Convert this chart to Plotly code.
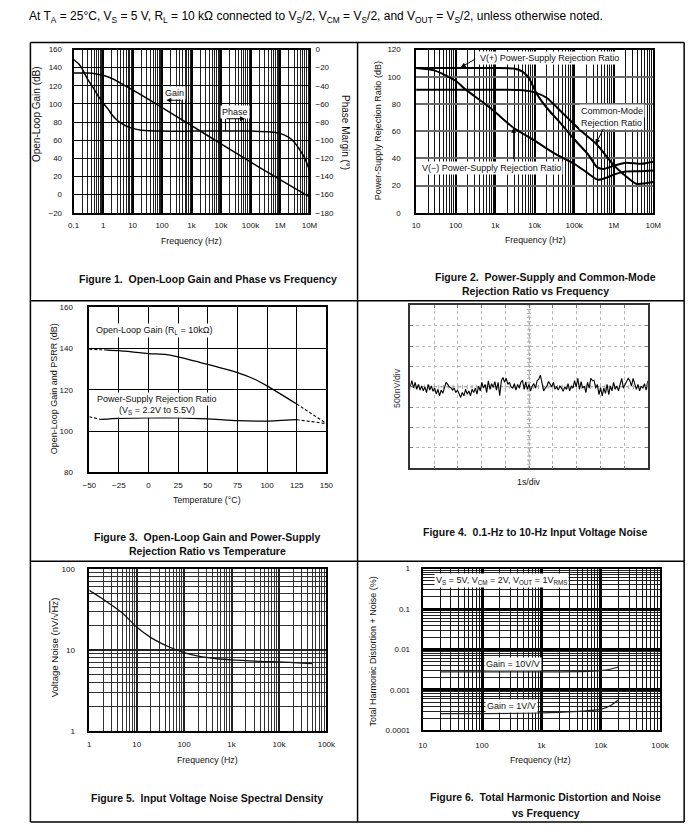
import plotly.graph_objects as go
import numpy as np

FONT = "Liberation Sans, Arial, Helvetica, sans-serif"
W, H = 700, 837

# ---------------- Figure 1: open-loop gain / phase ----------------
f1_gain = [0.1, 0.3, 0.6, 1, 2, 3, 5, 10, 100, 1e3, 1e4, 1e5, 1e6, 1e7]
gain_db = [134, 134, 133, 131.5, 128, 125, 121, 115.5, 96, 76, 56, 36, 16.5, -2.5]
f1_phase = [0.1, 0.15, 0.2, 0.3, 0.5, 0.7, 1, 1.5, 2, 3, 5, 10, 20, 100, 1e3, 1e4,
            1e5, 5e5, 1e6, 2e6, 3e6, 5e6, 7e6, 1e7]
phase_deg = [-11, -16, -22, -33, -44, -52, -59, -66, -72, -78, -83, -87, -89, -90, -90, -90,
             -90, -91, -92.5, -97, -102, -112, -120, -133]
f1_ticks = [0.1, 1, 10, 100, 1e3, 1e4, 1e5, 1e6, 1e7]
f1_labels = ["0.1", "1", "10", "100", "1k", "10k", "100k", "1M", "10M"]
gain_ticks = [-20, 0, 20, 40, 60, 80, 100, 120, 140, 160]
gain_labels = ["\u221220", "0", "20", "40", "60", "80", "100", "120", "140", "160"]
phase_ticks = [-180, -160, -140, -120, -100, -80, -60, -40, -20, 0]
phase_labels = ["\u2212180", "\u2212160", "\u2212140", "\u2212120", "\u2212100", "\u221280",
                "\u221260", "\u221240", "\u221220", "0"]

# ---------------- Figure 2: PSRR / CMRR ----------------
f2_vplus = [10, 1e3, 3e3, 4.9e3, 7.2e3, 1.05e4, 1.5e4, 2.2e4, 4.8e4, 1e5, 2.2e5, 3.8e5,
            5.6e5, 1e6, 2e6, 5e6, 1e7]
psrr_plus = [106.4, 106.4, 106, 103.8, 98.9, 89.2, 82, 75.9, 65, 54, 43.2, 33.5,
             32.2, 34.5, 36.8, 36, 37.5]
f2_vminus = [10, 30, 100, 180, 500, 1e3, 2.9e3, 1e4, 3e4, 1e5, 2e5, 4e5, 7e5, 1e6, 2e6, 5e6, 1e7]
psrr_minus = [106.4, 104.5, 97, 90.5, 81, 74, 62.5, 53, 44, 36, 30, 24.2, 26, 28, 30.3, 30.5, 31]
f2_cmrr = [10, 1e3, 5e3, 1e4, 2e4, 5e4, 1e5, 1.5e5, 3.7e5, 1e6, 2e6, 3.7e6, 6e6, 1e7]
cmrr = [90.5, 90.5, 90, 88.5, 84.5, 73.5, 65, 60, 50.4, 35, 27, 21.3, 21.5, 22.6]
f2_ticks = [10, 100, 1e3, 1e4, 1e5, 1e6, 1e7]
f2_labels = ["10", "100", "1k", "10k", "100k", "1M", "10M"]
psrr_ticks = [0, 20, 40, 60, 80, 100, 120]

# ---------------- Figure 3: vs temperature ----------------
temp_gain = [-50, -35, -25, 0, 15, 25, 50, 75, 90, 100, 125, 150]
olg_temp = [139.7, 139.3, 139, 137.6, 137.1, 136, 132.3, 128.3, 125, 121.9, 113.1, 103.7]
temp_psrr = [-50, -40, -25, 0, 25, 50, 75, 100, 125, 150]
psrr_temp = [106.9, 105.6, 106.1, 106.4, 106.4, 105.9, 105, 104.8, 105.5, 103.6]
temp_ticks = [-50, -25, 0, 25, 50, 75, 100, 125, 150]
temp_labels = ["\u221250", "\u221225", "0", "25", "50", "75", "100", "125", "150"]
db3_ticks = [80, 100, 120, 140, 160]

# ---------------- Figure 4: 0.1-10 Hz noise (nV) ----------------
noise_nv = [20, 150, -30, 110, -60, 60, -80, 20, -100, 0, -140, 60, -80, 20, -110, -30, -180, -60,
            -220, -80, -160, -30, 110, 60, 0, -20, -80, -30, -140, -80, -190, -260, -140, -220,
            -60, -180, -100, -220, -60, -140, -30, -180, 20, -100, 110, -30, 60, -140, 150, -60,
            80, -20, 130, -80, 110, -220, 150, 230, 110, 210, 60, 110, 0, -30, 80, -80, 60, -30,
            110, 160, -60, 120, -60, 60, -100, 20, 80, -30, 150, 190, 290, 60, -100, -30, 20, 130,
            60, 0, 110, -60, 0, -80, 20, -30, -110, 0, -60, 80, -100, 20, -30, 150, 0, 210, -60,
            130, -30, 20, -140, 110, -30, 210, 150, 160, -30, 60, -190, -20, -220, -30, -160, 60,
            -190, 20, -100, 110, -60, 20, -100, 80, 210, -30, 60, 110, 210, 150, 20, 210, 80, -60,
            60, -100, 20, -30, 80, -80, 150]

# ---------------- Figure 5: noise density ----------------
f5 = [1, 2, 3, 5, 10, 20, 50, 100, 200, 500, 1e3, 2e3, 5e3, 1e4, 2e4, 5e4]
vnoise = [54.4, 42, 35.5, 28.5, 19.2, 14.2, 10.8, 9.3, 8.4, 7.8, 7.55, 7.4, 7.2, 7.15, 7.0, 6.8]
f5_ticks = [1, 10, 100, 1e3, 1e4, 1e5]
f5_labels = ["1", "10", "100", "1k", "10k", "100k"]
vn_ticks = [1, 10, 100]

# ---------------- Figure 6: THD+N ----------------
f6 = [20, 100, 1e3, 2e3, 5e3, 1e4, 1.5e4, 2e4]
thd_g10 = [0.0028, 0.0028, 0.0028, 0.0028, 0.00282, 0.003, 0.0033, 0.0037]
thd_g1 = [0.00026, 0.00026, 0.00027, 0.00028, 0.0003, 0.00033, 0.00042, 0.00057]
f6_ticks = [10, 100, 1e3, 1e4, 1e5]
f6_labels = ["10", "100", "1k", "10k", "100k"]
thd_ticks = [1e-4, 1e-3, 1e-2, 0.1, 1]
thd_labels = ["0.0001", "0.001", "0.01", "0.1", "1"]


def px(x):
    return x / W


def py(y):
    return 1 - y / H


def minor_vals(lo, hi):
    return [m * 10.0 ** e for e in range(lo, hi) for m in range(2, 10)]


TICKFONT = dict(family=FONT, size=8, color="#111")


def axis(domain, **kw):
    d = dict(domain=domain, showline=True, mirror=True, linecolor="black", linewidth=1.5,
             ticks="", zeroline=False, showgrid=True, fixedrange=True, tickfont=TICKFONT)
    d.update(kw)
    return d


fig = go.Figure()
LINE = dict(color="black", width=1.5, shape="spline", smoothing=0.6)

# Fig 1 traces
fig.add_trace(go.Scatter(x=f1_gain, y=gain_db, xaxis="x", yaxis="y", mode="lines", line=LINE))
fig.add_trace(go.Scatter(x=f1_phase, y=phase_deg, xaxis="x", yaxis="y7", mode="lines", line=LINE))
# Fig 2 traces
L2 = dict(color="black", width=2, shape="spline", smoothing=0.6)
fig.add_trace(go.Scatter(x=f2_vplus, y=psrr_plus, xaxis="x2", yaxis="y2", mode="lines", line=L2))
fig.add_trace(go.Scatter(x=f2_vminus, y=psrr_minus, xaxis="x2", yaxis="y2", mode="lines", line=L2))
fig.add_trace(go.Scatter(x=f2_cmrr, y=cmrr, xaxis="x2", yaxis="y2", mode="lines", line=L2))
# Fig 3 traces (dashed extrapolated ends)
L3 = dict(color="black", width=1.3, shape="spline", smoothing=0.6)
L3d = dict(color="black", width=1.1, dash="3px,2px")
fig.add_trace(go.Scatter(x=temp_gain[1:11], y=olg_temp[1:11], xaxis="x3", yaxis="y3", mode="lines", line=L3))
fig.add_trace(go.Scatter(x=temp_gain[:2], y=olg_temp[:2], xaxis="x3", yaxis="y3", mode="lines", line=L3d))
fig.add_trace(go.Scatter(x=temp_gain[10:], y=olg_temp[10:], xaxis="x3", yaxis="y3", mode="lines", line=L3d))
fig.add_trace(go.Scatter(x=temp_psrr[1:9], y=psrr_temp[1:9], xaxis="x3", yaxis="y3", mode="lines", line=L3))
fig.add_trace(go.Scatter(x=temp_psrr[:2], y=psrr_temp[:2], xaxis="x3", yaxis="y3", mode="lines", line=L3d))
fig.add_trace(go.Scatter(x=temp_psrr[8:], y=psrr_temp[8:], xaxis="x3", yaxis="y3", mode="lines", line=L3d))
# Fig 4 graticule: dotted centre lines with small ticks, then the trace
gx = np.arange(0, 10.001, 0.2)
gy = np.arange(-2000, 2000.1, 100)
fig.add_trace(go.Scatter(x=[5, 5], y=[-2000, 2000], xaxis="x4", yaxis="y4", mode="lines",
                         line=dict(color="#999", width=1, dash="dot")))
fig.add_trace(go.Scatter(x=[0, 10], y=[0, 0], xaxis="x4", yaxis="y4", mode="lines",
                         line=dict(color="#999", width=1, dash="dot")))
fig.add_trace(go.Scatter(x=gx, y=[0] * len(gx), xaxis="x4", yaxis="y4", mode="markers",
                         marker=dict(symbol="line-ns", size=3, line=dict(color="#aaa", width=1))))
fig.add_trace(go.Scatter(x=[5] * len(gy), y=gy, xaxis="x4", yaxis="y4", mode="markers",
                         marker=dict(symbol="line-ew", size=3, line=dict(color="#aaa", width=1))))
t4 = np.linspace(0, 10, len(noise_nv))
fig.add_trace(go.Scatter(x=t4, y=noise_nv, xaxis="x4", yaxis="y4", mode="lines",
                         line=dict(color="black", width=1.1)))
# Fig 5
fig.add_trace(go.Scatter(x=f5, y=vnoise, xaxis="x5", yaxis="y5", mode="lines",
                         line=dict(color="#111", width=1.3, shape="spline", smoothing=0.6)))
# Fig 6
L6 = dict(color="#222", width=1.2, shape="spline", smoothing=0.5)
fig.add_trace(go.Scatter(x=f6, y=thd_g10, xaxis="x6", yaxis="y6", mode="lines", line=L6))
fig.add_trace(go.Scatter(x=f6, y=thd_g1, xaxis="x6", yaxis="y6", mode="lines", line=L6))

layout = dict(
    width=W, height=H, margin=dict(l=0, r=0, t=0, b=0),
    paper_bgcolor="white", plot_bgcolor="white", showlegend=False,
    font=dict(family=FONT, color="#111"), hovermode=False,
)

# Fig 1 axes
layout["xaxis"] = axis([px(68.3), px(310)], type="log", range=[-1, 7], anchor="y",
                       tickvals=f1_ticks, ticktext=f1_labels, gridcolor="black", gridwidth=2.2,
                       linewidth=2, ticklabelstandoff=4,
                       minor=dict(tickvals=minor_vals(-1, 7), showgrid=True, gridcolor="#222", gridwidth=1))
layout["yaxis"] = axis([py(211), py(46)], range=[-20, 160], anchor="x", tickvals=gain_ticks,
                       ticktext=gain_labels, gridcolor="black", gridwidth=1.4, linewidth=2,
                       ticklabelstandoff=8)
layout["yaxis7"] = dict(overlaying="y", side="right", anchor="x", range=[-180, 0], tickvals=phase_ticks,
                        ticktext=phase_labels, showgrid=False, showline=False, zeroline=False,
                        ticks="", fixedrange=True, tickfont=TICKFONT, ticklabelstandoff=5)
# Fig 2 axes
layout["xaxis2"] = axis([px(419.3), px(662.3)], type="log", range=[1, 7], anchor="y2",
                        tickvals=f2_ticks, ticktext=f2_labels, gridcolor="black", gridwidth=2,
                        ticklabelstandoff=4,
                        minor=dict(tickvals=minor_vals(1, 7), showgrid=True, gridcolor="#111", gridwidth=1))
layout["yaxis2"] = axis([py(211), py(46)], range=[0, 120], anchor="x2", tickvals=psrr_ticks,
                        gridcolor="#6a6a6a", gridwidth=1.8, ticklabelstandoff=12)
# Fig 3 axes
layout["xaxis3"] = axis([px(84.3), px(327.3)], range=[-50, 150], anchor="y3", tickvals=temp_ticks,
                        ticktext=temp_labels, gridcolor="black", gridwidth=1.4, ticklabelstandoff=4)
layout["yaxis3"] = axis([py(473.3), py(306.7)], range=[80, 160], anchor="x3", tickvals=db3_ticks,
                        gridcolor="black", gridwidth=1.4, ticklabelstandoff=13)
# Fig 4 axes
layout["xaxis4"] = axis([px(413.3), px(656.7)], range=[0, 10], anchor="y4", dtick=1,
                        showticklabels=False, gridcolor="#b8b8b8", gridwidth=1, griddash="dot",
                        linecolor="#333", ticks="inside", ticklen=3, tickcolor="#777", mirror="allticks")
layout["yaxis4"] = axis([py(469.3), py(304.7)], range=[-2000, 2000], anchor="x4", dtick=500,
                        showticklabels=False, gridcolor="#b8b8b8", gridwidth=1, griddash="dot",
                        linecolor="#333", ticks="inside", ticklen=3, tickcolor="#777", mirror="allticks")
# Fig 5 axes
layout["xaxis5"] = axis([px(84.3), px(327.3)], type="log", range=[0, 5], anchor="y5",
                        tickvals=f5_ticks, ticktext=f5_labels, gridcolor="#222", gridwidth=1.5,
                        ticklabelstandoff=5,
                        minor=dict(tickvals=minor_vals(0, 5), showgrid=True, gridcolor="#333", gridwidth=1))
layout["yaxis5"] = axis([py(735), py(571)], type="log", range=[0, 2], anchor="x5",
                        tickvals=vn_ticks, ticktext=["1", "10", "100"], gridcolor="#222", gridwidth=1.5,
                        ticklabelstandoff=11,
                        minor=dict(tickvals=minor_vals(0, 2), showgrid=True, gridcolor="#333", gridwidth=1))
# Fig 6 axes
layout["xaxis6"] = axis([px(426), px(669.3)], type="log", range=[1, 5], anchor="y6",
                        tickvals=f6_ticks, ticktext=f6_labels, gridcolor="black", gridwidth=2.5,
                        linewidth=2, ticklabelstandoff=6,
                        minor=dict(tickvals=minor_vals(1, 5), showgrid=True, gridcolor="#111", gridwidth=1))
layout["yaxis6"] = axis([py(734.3), py(570.7)], type="log", range=[-4, 0], anchor="x6",
                        tickvals=thd_ticks, ticktext=thd_labels, gridcolor="black", gridwidth=2.8,
                        linewidth=2, ticklabelstandoff=9,
                        minor=dict(tickvals=minor_vals(-4, 0), showgrid=True, gridcolor="#222", gridwidth=1))

fig.update_layout(**layout)

# ---------------- annotations ----------------
ann = []


def text(x, y, s, size=9, bold=False, angle=0, bg=None, anchor="center", color="#111"):
    a = dict(x=px(x), y=py(y), xref="paper", yref="paper", text=("<b>%s</b>" % s) if bold else s,
             showarrow=False, xanchor=anchor, yanchor="middle", textangle=angle,
             font=dict(family=FONT, size=size, color=color))
    if bg:
        a["bgcolor"] = bg
        a["borderpad"] = 1
    ann.append(a)


def arrow(x, y, dx, dy):
    ann.append(dict(x=px(x), y=py(y), xref="paper", yref="paper", text="", showarrow=True,
                    ax=dx, ay=dy, arrowhead=2, arrowsize=1, arrowwidth=1, arrowcolor="black"))


NB = "\u00a0 "
# header
text(20, 13, "At T<sub>A</sub> = 25\u00b0C, V<sub>S</sub> = 5 V, R<sub>L</sub> = 10 k\u03a9 connected to "
     "V<sub>S</sub>/2, V<sub>CM</sub> = V<sub>S</sub>/2, and V<sub>OUT</sub> = V<sub>S</sub>/2, "
     "unless otherwise noted.", size=12, anchor="left", color="black")

# captions
text(206, 278, "Figure 1." + NB + "Open-Loop Gain and Phase vs Frequency", size=10.5, bold=True)
text(551.5, 276, "Figure 2." + NB + "Power-Supply and Common-Mode", size=10.5, bold=True)
text(541.5, 290, "Rejection Ratio vs Frequency", size=10.5, bold=True)
text(205.5, 539, "Figure 3." + NB + "Open-Loop Gain and Power-Supply", size=10.5, bold=True)
text(206, 553, "Rejection Ratio vs Temperature", size=10.5, bold=True)
text(542, 534, "Figure 4." + NB + "0.1-Hz to 10-Hz Input Voltage Noise", size=10.5, bold=True)
text(205, 803, "Figure 5." + NB + "Input Voltage Noise Spectral Density", size=10.5, bold=True)
text(551.5, 802, "Figure 6." + NB + "Total Harmonic Distortion and Noise", size=10.5, bold=True)
text(552, 817.5, "vs Frequency", size=10.5, bold=True)

# axis titles
text(31, 111, "Open-Loop Gain (dB)", size=10, angle=-90)
text(347, 130, "Phase Margin (\u00b0)", size=10, angle=90)
text(188.7, 240, "Frequency (Hz)", size=8.8)
text(380.5, 128.3, "Power-Supply Rejection Ratio (dB)", size=9, angle=-90)
text(542, 238.3, "Frequency (Hz)", size=8.8)
text(48.5, 389.2, "Open-Loop Gain and PSRR (dB)", size=9, angle=-90)
text(205, 501, "Temperature (\u00b0C)", size=8.8)
text(399.5, 388.3, "500nV/div", size=8.8, angle=-90, color="#334")
text(535, 482.7, "1s/div", size=8.8)
text(48.5, 650, "Voltage Noise (nV/\u221a<span style='text-decoration:overline'>Hz</span>)", size=9.6, angle=-90)
text(205.8, 764.3, "Frequency (Hz)", size=8.8)
text(375.5, 654.2, "Total Harmonic Distortion + Noise (%)", size=9, angle=-90)
text(546.5, 764.3, "Frequency (Hz)", size=8.8)

# Figure 1 labels
text(171.7, 90, "Gain", size=9, bg="white")
arrow(163.3, 97.3, 16, 0)
text(233.3, 109, "Phase", size=9, bg="white")
arrow(244, 116, -20, 0)
# Figure 2 labels
text(556, 55, "V(+) Power-Supply Rejection Ratio", size=9, bg="white")
arrow(465, 64, 16, -9)
text(620, 108.5, "Common-Mode", size=9, bg="white")
text(620, 120, "Rejection Ratio", size=9, bg="white")
arrow(603.3, 141.7, 8.4, -16.7)
text(496.7, 166, "V(\u2212) Power-Supply Rejection Ratio", size=9, bg="white")
arrow(519.3, 125, 0, 33)
# Figure 3 labels
text(150.8, 330, "Open-Loop Gain (R<sub>L</sub> = 10k\u03a9)", size=9, bg="white")
text(153.3, 399, "Power-Supply Rejection Ratio", size=9, bg="white")
text(153.3, 410.5, "(V<sub>S</sub> = 2.2V to 5.5V)", size=9, bg="white")
# Figure 6 labels
text(507, 583, "V<sub>S</sub> = 5V, V<sub>CM</sub> = 2V, V<sub>OUT</sub> = 1V<sub>RMS</sub>", size=9, bg="white")
text(518.5, 667.3, "Gain = 10V/V", size=9, bg="white")
text(517, 709.3, "Gain = 1V/V", size=9, bg="white")

# ---------------- shapes ----------------
shapes = []


def seg(x0, y0, x1, y1, w=1.5, color="black"):
    shapes.append(dict(type="line", xref="paper", yref="paper", x0=px(x0), y0=py(y0), x1=px(x1),
                       y1=py(y1), line=dict(color=color, width=w)))


# table borders
seg(24, 39, 694, 39)
seg(24, 827, 694, 827)
seg(24, 39, 24, 827)
seg(694, 39, 694, 827)
seg(359.3, 39, 359.3, 827)
seg(24, 300, 694, 300)
seg(24, 563.3, 694, 563.3)
# leader lines fig 1
seg(179.3, 97.3, 179.3, 118.5, w=1)
seg(224, 116, 224, 128.5, w=1)

fig.update_layout(annotations=ann, shapes=shapes)

fig.write_html("out.html", config={"displayModeBar": False},
               post_script="document.body.style.margin='0';")
